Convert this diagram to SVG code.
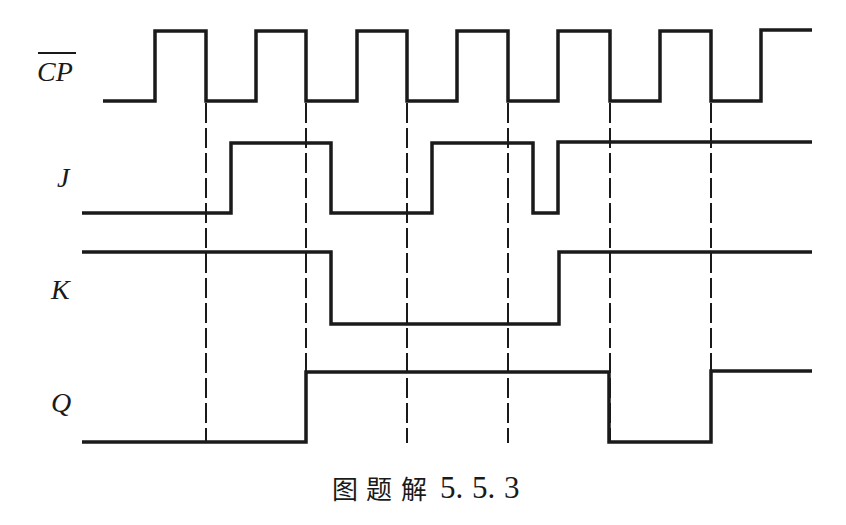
<svg xmlns="http://www.w3.org/2000/svg" width="846" height="525" viewBox="0 0 846 525">
<style>
.w{fill:none;stroke:#1a1a1a;stroke-width:3.5;stroke-linejoin:miter;stroke-linecap:butt}
.d{fill:none;stroke:#1a1a1a;stroke-width:2;stroke-dasharray:20 5}
.lb{font-family:'Liberation Serif','Times New Roman',Times,serif;font-style:italic;font-size:28px;fill:#1a1a1a}
.num{font-family:'Liberation Serif','Times New Roman',Times,serif;fill:#1a1a1a}
.cjk{font-family:'Noto Sans CJK SC','Noto Sans CJK TC',sans-serif;fill:#1a1a1a}
</style>
<rect width="846" height="525" fill="#fff"/>
<g id="connectors">
<path class="d" d="M206 103V443M306 103V443M407 103V443M508 103V443M610 103V443M711 103V443"/>
</g>
<g id="cp">
<path class="w" d="M103 101H155V31H206V101H256V31H306V101H357V31H407V101H457V31H508V101H558V31H610V101H660V31H711V101H761V30H812"/>
<text class="lb" x="37" y="81">CP</text>
<line x1="38" y1="53" x2="76" y2="53" stroke="#1a1a1a" stroke-width="2"/>
</g>
<g id="j">
<path class="w" d="M82 213H231V143H331V213H432V143H533V213H558V142H812"/>
<text class="lb" x="57" y="187">J</text>
</g>
<g id="k">
<path class="w" d="M82 252H331V324H559V252H812"/>
<text class="lb" x="51" y="299">K</text>
</g>
<g id="q">
<path class="w" d="M82 442H306V372H609V442H711V371H812"/>
<text class="lb" x="51" y="412">Q</text>
</g>
<g id="caption">
<text class="cjk" font-size="26" y="499"><tspan x="332">图</tspan><tspan x="366">题</tspan><tspan x="401">解</tspan></text>
<text class="num" font-size="31" y="498"><tspan x="440">5.</tspan><tspan x="472">5.</tspan><tspan x="504">3</tspan></text>
</g>
</svg>
